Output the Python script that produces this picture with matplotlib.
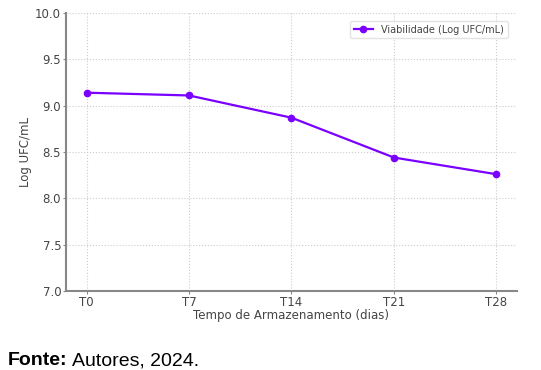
import matplotlib
matplotlib.use("Agg")
import matplotlib.pyplot as plt

categories = ["T0", "T7", "T14", "T21", "T28"]
viabilidade = [9.14, 9.11, 8.87, 8.44, 8.26]
yticks = [7.0, 7.5, 8.0, 8.5, 9.0, 9.5, 10.0]

plt.rcParams['font.family'] = ['DejaVu Sans']
fig = plt.figure(figsize=(5.41, 3.70), dpi=100)
ax = fig.add_axes([0.122, 0.2135, 0.8336, 0.7514])

color = "#7a00ff"
x = list(range(len(categories)))
ax.plot(x, viabilidade, color=color, lw=1.6, marker="o", ms=4.5,
        label="Viabilidade (Log UFC/mL)")
ax.set_xticks(x)
ax.set_xticklabels(categories)
ax.set_yticks(yticks)
ax.set_yticklabels([f"{v:.1f}" for v in yticks])
ax.set_ylim(7.0, 10.0)
ax.set_xlim(-0.2, 4.2)

ax.grid(True, ls=":", color="#cccccc", lw=0.8)
for s in ["top", "right"]:
    ax.spines[s].set_visible(False)
for s in ["left", "bottom"]:
    ax.spines[s].set_color("#888888")
    ax.spines[s].set_linewidth(1.5)
ax.tick_params(colors="#888888", labelcolor="#444444", labelsize=8.5, length=2, pad=1.5)
ax.set_xlabel("Tempo de Armazenamento (dias)", fontsize=8.5, color="#444444", labelpad=0)
ax.set_ylabel("Log UFC/mL", fontsize=8.5, color="#444444", labelpad=2)

leg = ax.legend(loc="upper right", fontsize=7, frameon=True, borderpad=0.4,
                handlelength=2.0, bbox_to_anchor=(0.99, 0.99))
leg.get_frame().set_edgecolor("#dddddd")
for t in leg.get_texts():
    t.set_color("#444444")

fig.text(0.015, 0.0135, "Fonte:", fontsize=14, fontweight="bold",
         family="Liberation Sans", color="black")
fig.text(0.134, 0.0135, "Autores, 2024.", fontsize=14,
         family="Liberation Sans", color="black")

fig.savefig("out.png", dpi=100)
